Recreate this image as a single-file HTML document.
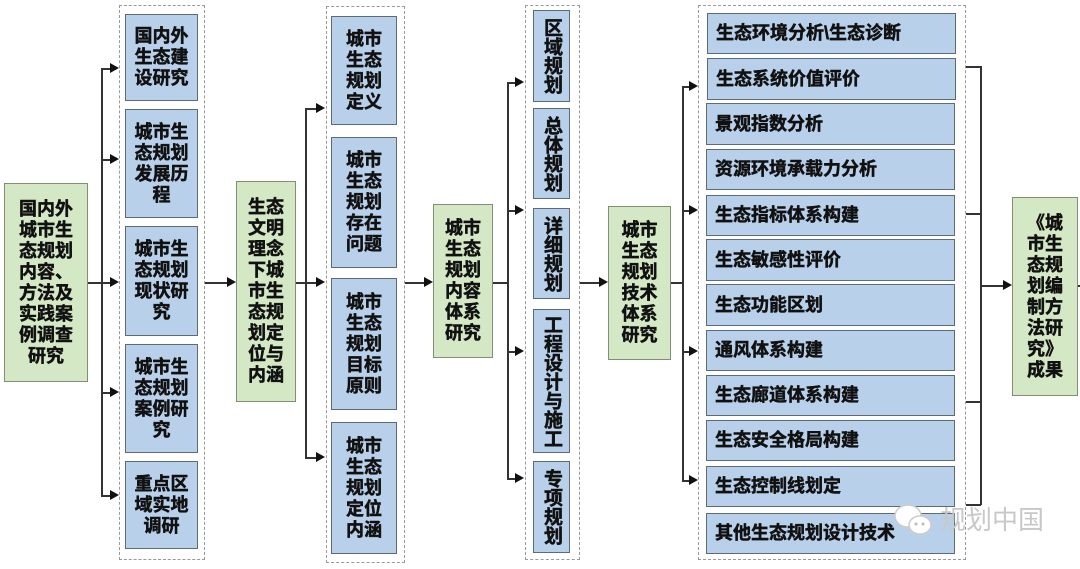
<!DOCTYPE html>
<html><head><meta charset="utf-8"><style>
body{margin:0;width:1080px;height:569px;background:#fff;position:relative;overflow:hidden;font-family:"Liberation Sans","Noto Sans CJK SC",sans-serif;}
.b{position:absolute;box-sizing:border-box;display:flex;align-items:center;justify-content:center;text-align:center;font-weight:bold;font-size:18px;line-height:21px;color:#111;-webkit-text-stroke:0.5px #111;}
.g{background:#d5e8c6;border:1.5px solid #7f8f75;}
.u{background:#b8d0ea;border:1.5px solid #5d6a78;}
.v{writing-mode:vertical-rl;text-orientation:upright;letter-spacing:0px;font-size:19px;}
.r{justify-content:flex-start;padding-left:8px;font-size:18px;}
.c{position:absolute;box-sizing:border-box;border:1.5px dashed #999;}
.h{position:absolute;height:1.5px;background:#333;}
.vl{position:absolute;width:1.5px;background:#333;}
.a{position:absolute;width:0;height:0;border-top:5px solid transparent;border-bottom:5px solid transparent;border-left:9px solid #111;}
</style></head><body>
<div class="c" style="left:119px;top:5px;width:86px;height:555px"></div>
<div class="c" style="left:326px;top:6px;width:79px;height:557px"></div>
<div class="c" style="left:525px;top:5px;width:55px;height:555px"></div>
<div class="c" style="left:698px;top:5px;width:268px;height:555px"></div>

<div class="b g" style="left:4px;top:183px;width:84px;height:199px">国内外<br>城市生<br>态规划<br>内容、<br>方法及<br>实践案<br>例调查<br>研究</div>
<div class="b g" style="left:236px;top:181px;width:60px;height:221px">生态<br>文明<br>理念<br>下城<br>市生<br>态规<br>划定<br>位与<br>内涵</div>
<div class="b g" style="left:433px;top:204px;width:60px;height:154px">城市<br>生态<br>规划<br>内容<br>体系<br>研究</div>
<div class="b g" style="left:608px;top:206px;width:63px;height:154px">城市<br>生态<br>规划<br>技术<br>体系<br>研究</div>
<div class="b g" style="left:1012px;top:197px;width:66px;height:199px">《城<br>市生<br>态规<br>划编<br>制方<br>法研<br>究》<br>成果</div>

<div class="b u" style="left:125px;top:14px;width:73px;height:87px">国内外<br>生态建<br>设研究</div>
<div class="b u" style="left:125px;top:109px;width:73px;height:109px">城市生<br>态规划<br>发展历<br>程</div>
<div class="b u" style="left:125px;top:226px;width:73px;height:110px">城市生<br>态规划<br>现状研<br>究</div>
<div class="b u" style="left:125px;top:344px;width:73px;height:109px">城市生<br>态规划<br>案例研<br>究</div>
<div class="b u" style="left:125px;top:461px;width:73px;height:88px">重点区<br>域实地<br>调研</div>

<div class="b u" style="left:331px;top:16px;width:66px;height:109px">城市<br>生态<br>规划<br>定义</div>
<div class="b u" style="left:331px;top:137px;width:66px;height:131px">城市<br>生态<br>规划<br>存在<br>问题</div>
<div class="b u" style="left:331px;top:278px;width:66px;height:132px">城市<br>生态<br>规划<br>目标<br>原则</div>
<div class="b u" style="left:331px;top:422px;width:66px;height:132px">城市<br>生态<br>规划<br>定位<br>内涵</div>

<div class="b u v" style="left:533px;top:10px;width:37px;height:92px">区域规划</div>
<div class="b u v" style="left:533px;top:108px;width:37px;height:91px">总体规划</div>
<div class="b u v" style="left:533px;top:208px;width:37px;height:91px">详细规划</div>
<div class="b u v" style="left:533px;top:309px;width:37px;height:144px">工程设计与施工</div>
<div class="b u v" style="left:533px;top:461px;width:37px;height:92px">专项规划</div>

<div class="b u r" style="left:707px;top:13px;width:249px;height:41px">生态环境分析\生态诊断</div>
<div class="b u r" style="left:707px;top:58px;width:249px;height:42px">生态系统价值评价</div>
<div class="b u r" style="left:706px;top:103px;width:249px;height:42px">景观指数分析</div>
<div class="b u r" style="left:706px;top:149px;width:249px;height:41px">资源环境承载力分析</div>
<div class="b u r" style="left:706px;top:195px;width:249px;height:41px">生态指标体系构建</div>
<div class="b u r" style="left:706px;top:239px;width:249px;height:42px">生态敏感性评价</div>
<div class="b u r" style="left:706px;top:284px;width:249px;height:42px">生态功能区划</div>
<div class="b u r" style="left:706px;top:330px;width:249px;height:41px">通风体系构建</div>
<div class="b u r" style="left:706px;top:375px;width:249px;height:41px">生态廊道体系构建</div>
<div class="b u r" style="left:706px;top:420px;width:249px;height:41px">生态安全格局构建</div>
<div class="b u r" style="left:706px;top:466px;width:249px;height:41px">生态控制线划定</div>
<div class="b u r" style="left:706px;top:513px;width:249px;height:41px">其他生态规划设计技术</div>

<div class="h" style="left:88px;top:282px;width:24px"></div>
<div class="vl" style="left:101px;top:68px;height:428px"></div>
<div class="h" style="left:101px;top:68px;width:10px"></div><div class="a" style="left:110px;top:63px"></div>
<div class="h" style="left:101px;top:159px;width:10px"></div><div class="a" style="left:110px;top:154px"></div>
<div class="a" style="left:110px;top:277px"></div>
<div class="h" style="left:101px;top:392px;width:10px"></div><div class="a" style="left:110px;top:387px"></div>
<div class="h" style="left:101px;top:495px;width:10px"></div><div class="a" style="left:110px;top:490px"></div>
<div class="h" style="left:205px;top:282px;width:24px"></div><div class="a" style="left:227px;top:277px"></div>
<div class="h" style="left:296px;top:282px;width:24px"></div>
<div class="vl" style="left:305px;top:108px;height:350px"></div>
<div class="h" style="left:305px;top:108px;width:12px"></div><div class="a" style="left:316px;top:103px"></div>
<div class="a" style="left:316px;top:277px"></div>
<div class="h" style="left:305px;top:457px;width:12px"></div><div class="a" style="left:316px;top:452px"></div>
<div class="h" style="left:405px;top:282px;width:20px"></div><div class="a" style="left:424px;top:277px"></div>
<div class="h" style="left:493px;top:282px;width:14px"></div>
<div class="vl" style="left:507px;top:82px;height:397px"></div>
<div class="h" style="left:507px;top:82px;width:10px"></div><div class="a" style="left:515px;top:77px"></div>
<div class="h" style="left:507px;top:210px;width:10px"></div><div class="a" style="left:515px;top:205px"></div>
<div class="h" style="left:507px;top:351px;width:10px"></div><div class="a" style="left:515px;top:346px"></div>
<div class="h" style="left:507px;top:478px;width:10px"></div><div class="a" style="left:515px;top:473px"></div>
<div class="h" style="left:580px;top:282px;width:20px"></div><div class="a" style="left:599px;top:277px"></div>
<div class="h" style="left:671px;top:282px;width:11px"></div>
<div class="vl" style="left:682px;top:86px;height:395px"></div>
<div class="h" style="left:682px;top:86px;width:8px"></div><div class="a" style="left:689px;top:81px"></div>
<div class="h" style="left:682px;top:210px;width:8px"></div><div class="a" style="left:689px;top:205px"></div>
<div class="h" style="left:682px;top:351px;width:8px"></div><div class="a" style="left:689px;top:346px"></div>
<div class="h" style="left:682px;top:480px;width:8px"></div><div class="a" style="left:689px;top:475px"></div>
<div class="vl" style="left:980px;top:66px;height:439px"></div>
<div class="h" style="left:966px;top:66px;width:15px"></div>
<div class="h" style="left:966px;top:213px;width:15px"></div>
<div class="h" style="left:966px;top:401px;width:15px"></div>
<div class="h" style="left:966px;top:504px;width:15px"></div>
<div class="h" style="left:980px;top:285px;width:24px"></div><div class="a" style="left:1003px;top:280px"></div>
<div class="h" style="left:1078px;top:285px;width:4px"></div>

<svg style="position:absolute;left:890px;top:500px" width="50" height="40">
<ellipse cx="18" cy="16" rx="13" ry="11" fill="#fff" stroke="#ccc" stroke-width="1.5"/>
<ellipse cx="30" cy="25" rx="11" ry="9" fill="#fff" stroke="#ccc" stroke-width="1.5"/>
<circle cx="26" cy="24" r="1.5" fill="#bbb"/><circle cx="33" cy="24" r="1.5" fill="#bbb"/>
</svg>
<div style="position:absolute;left:940px;top:505px;font-size:26px;line-height:30px;color:#c8c8c8;font-family:'Liberation Sans','Noto Sans CJK SC',sans-serif;">规划中国</div>
</body></html>
